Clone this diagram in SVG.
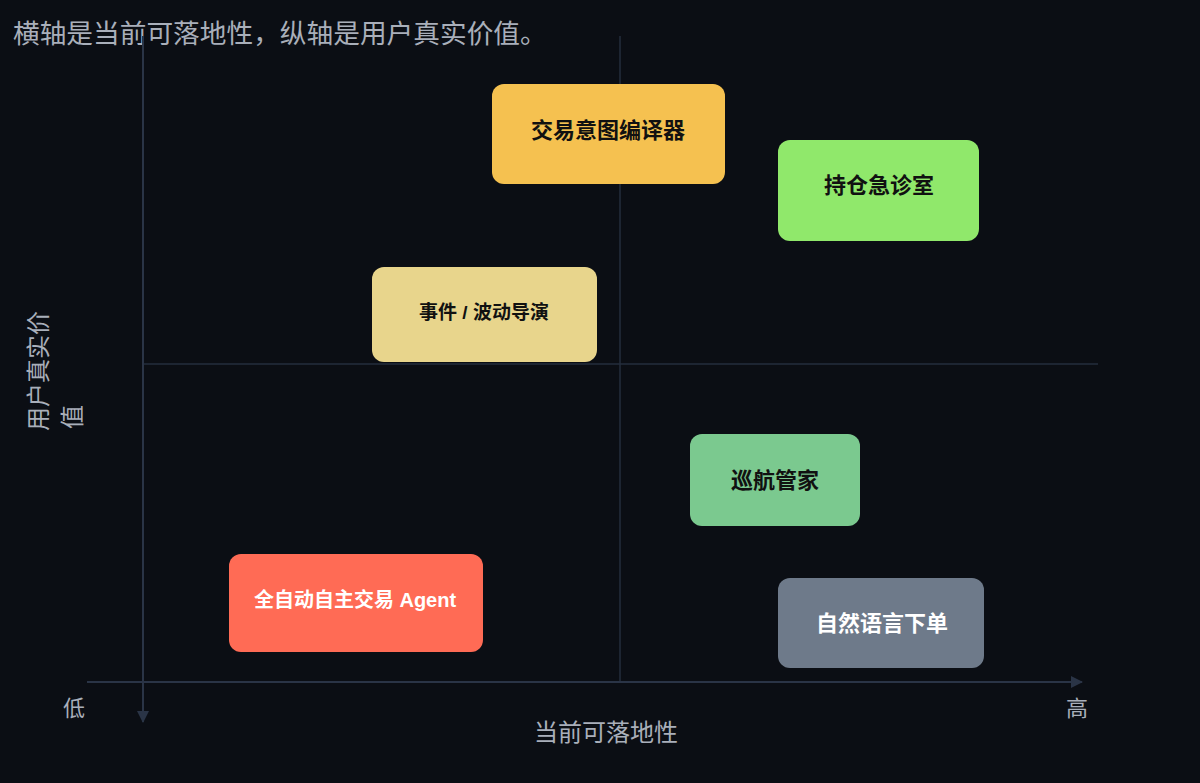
<svg xmlns="http://www.w3.org/2000/svg" width="1200" height="783" viewBox="0 0 1200 783">
  <defs>
    <style>
      .axis { stroke: #2a3446; stroke-width: 2; fill: none; }
      .grid { stroke: #252e3d; stroke-width: 1.5; fill: none; }
      .lbl { font-family: "Noto Sans CJK SC", "Liberation Sans", sans-serif; fill: #a9afba; }
      .node-text { font-family: "Liberation Sans", "Noto Sans CJK SC", sans-serif; font-weight: bold; text-anchor: middle; dominant-baseline: central; }
    </style>
    <marker id="arrow" viewBox="0 0 12 12" refX="11" refY="6" markerWidth="12" markerHeight="12" markerUnits="userSpaceOnUse" orient="auto">
      <path d="M0,0 L12,6 L0,12 Z" fill="#2a3446"/>
    </marker>
  </defs>
  <rect x="0" y="0" width="1200" height="783" fill="#0b0e14"/>

  <text class="lbl" x="13" y="43" font-size="26.7">横轴是当前可落地性，纵轴是用户真实价值。</text>

  <g id="connectors">
    <line class="grid" x1="620" y1="36" x2="620" y2="682"/>
    <line class="grid" x1="143" y1="364" x2="1098" y2="364"/>
    <line class="axis" x1="143" y1="36" x2="143" y2="722" marker-end="url(#arrow)"/>
    <line class="axis" x1="87" y1="682" x2="1082" y2="682" marker-end="url(#arrow)"/>
  </g>

  <text class="lbl" x="74" y="716" font-size="22" text-anchor="middle">低</text>
  <text class="lbl" x="1077" y="716" font-size="22" text-anchor="middle">高</text>
  <text class="lbl" x="606" y="741" font-size="24" text-anchor="middle">当前可落地性</text>
  <g transform="translate(0,431) rotate(-90)">
    <text class="lbl" x="0" y="47" font-size="24">用户真实价</text>
    <text class="lbl" x="2" y="81" font-size="24">值</text>
  </g>

  <g id="node-compiler">
    <rect x="492" y="84" width="233" height="100" rx="12" fill="#f5c150"/>
    <text class="node-text" x="608" y="130" font-size="22" fill="#111111">交易意图编译器</text>
  </g>
  <g id="node-clinic">
    <rect x="778" y="140" width="201" height="101" rx="12" fill="#90e86b"/>
    <text class="node-text" x="879" y="185" font-size="22" fill="#111111">持仓急诊室</text>
  </g>
  <g id="node-director">
    <rect x="372" y="267" width="225" height="95" rx="12" fill="#e8d58c"/>
    <text class="node-text" x="484" y="312" font-size="19" fill="#111111">事件 / 波动导演</text>
  </g>
  <g id="node-cruise">
    <rect x="690" y="434" width="170" height="92" rx="12" fill="#7bc98f"/>
    <text class="node-text" x="775" y="480" font-size="22" fill="#111111">巡航管家</text>
  </g>
  <g id="node-agent">
    <rect x="229" y="554" width="254" height="98" rx="12" fill="#ff6b55"/>
    <text class="node-text" x="355" y="600" font-size="20" fill="#ffffff">全自动自主交易 Agent</text>
  </g>
  <g id="node-nl-order">
    <rect x="778" y="578" width="206" height="90" rx="12" fill="#6e7a8a"/>
    <text class="node-text" x="882" y="623" font-size="22" fill="#ffffff">自然语言下单</text>
  </g>
</svg>
